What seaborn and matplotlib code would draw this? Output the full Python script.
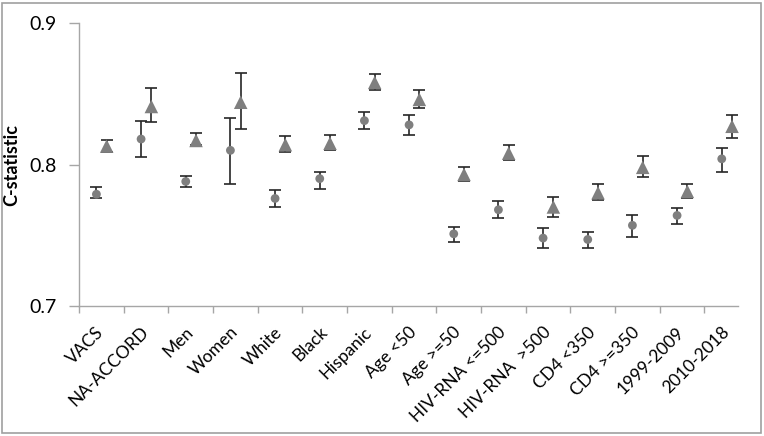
import numpy as np
import pandas as pd
import matplotlib
matplotlib.use("Agg")
import matplotlib.pyplot as plt
from matplotlib.patches import Rectangle
import seaborn as sns

# ================= DATA =================
categories = ["VACS", "NA-ACCORD", "Men", "Women", "White", "Black", "Hispanic",
              "Age <50", "Age >=50", "HIV-RNA <=500", "HIV-RNA  >500",
              "CD4 <350", "CD4 >=350", "1999-2009", "2010-2018"]

# circle series
c_est = [0.779, 0.818, 0.788, 0.810, 0.776, 0.790, 0.831, 0.828, 0.751, 0.768,
         0.748, 0.747, 0.757, 0.764, 0.804]
c_low = [0.776, 0.805, 0.784, 0.786, 0.770, 0.783, 0.825, 0.821, 0.745, 0.762,
         0.741, 0.741, 0.749, 0.758, 0.795]
c_high = [0.784, 0.831, 0.792, 0.833, 0.782, 0.795, 0.837, 0.835, 0.756, 0.774,
          0.755, 0.752, 0.764, 0.769, 0.812]

# triangle series
t_est = [0.813, 0.841, 0.817, 0.844, 0.814, 0.815, 0.858, 0.846, 0.793, 0.808,
         0.770, 0.780, 0.798, 0.781, 0.827]
t_low = [0.809, 0.830, 0.814, 0.825, 0.809, 0.810, 0.853, 0.840, 0.788, 0.803,
         0.763, 0.775, 0.791, 0.776, 0.819]
t_high = [0.817, 0.854, 0.822, 0.865, 0.820, 0.821, 0.864, 0.853, 0.798, 0.814,
          0.777, 0.786, 0.806, 0.786, 0.835]

yticks = [0.7, 0.8, 0.9]

# ================= TABLE =================
idx = np.arange(len(categories))
df = pd.concat([
    pd.DataFrame({"pos": idx - 0.11, "est": c_est, "low": c_low, "high": c_high, "series": "circle"}),
    pd.DataFrame({"pos": idx + 0.12, "est": t_est, "low": t_low, "high": t_high, "series": "triangle"}),
])

# ================= PLOT =================
sns.set_style("white")
plt.rcParams["font.family"] = ["Lato", "DejaVu Sans"]
plt.rcParams["text.color"] = "#000000"

W, H = 764, 436
fig = plt.figure(figsize=(W / 100, H / 100), dpi=100)
ax = fig.add_axes([79 / W, 1 - 306 / H, 670 / W, 283 / H])

grey = "#7f7f7f"
for s, g in df.groupby("series"):
    ax.errorbar(g["pos"], g["est"], yerr=[g["est"] - g["low"], g["high"] - g["est"]],
                fmt="none", ecolor="#262626", elinewidth=1.2, capsize=4.5, capthick=1.2, zorder=2)

# circles through seaborn, triangles slightly larger
sns.scatterplot(data=df[df["series"] == "circle"], x="pos", y="est", marker="o",
                color=grey, edgecolor="none", s=40, legend=False, ax=ax, zorder=3)
sns.scatterplot(data=df[df["series"] == "triangle"], x="pos", y="est", marker="^",
                color=grey, edgecolor="none", s=95, legend=False, ax=ax, zorder=3)

ax.set_xlim(-0.5, 14.5)
ax.set_ylim(0.7, 0.9)
ax.set_yticks(yticks)
ax.set_yticklabels([f"{v:.1f}" for v in yticks], fontsize=14, color="black")
ax.set_xticks(idx)
ax.set_xticklabels(categories, rotation=45, ha="right", va="center", rotation_mode="anchor",
                   fontsize=12.5, color="black")
ax.set_xticks(np.arange(-0.5, 14, 1), minor=True)
ax.tick_params(axis="x", which="major", length=0, pad=17)
ax.tick_params(axis="x", which="minor", length=5, width=1, color="#a6a6a6", direction="out", bottom=True)
ax.tick_params(axis="y", length=7, width=1, color="#a6a6a6", direction="out", left=True, pad=9)

sns.despine(ax=ax, top=True, right=True)
for side in ["left", "bottom"]:
    ax.spines[side].set_color("#a6a6a6")
    ax.spines[side].set_linewidth(1)
ax.spines["bottom"].set_bounds(-0.5, 14.25)

ax.set_xlabel("")
ax.set_ylabel("C-statistic", fontsize=13, fontweight="bold", color="black")
ax.yaxis.set_label_coords(-0.088, 0.5)

fig.patches.append(Rectangle((2 / W, 3 / H), 759 / W, 430 / H, transform=fig.transFigure,
                             fill=False, edgecolor="#a0a0a0", linewidth=1.2))

plt.savefig("out.png", dpi=100)
